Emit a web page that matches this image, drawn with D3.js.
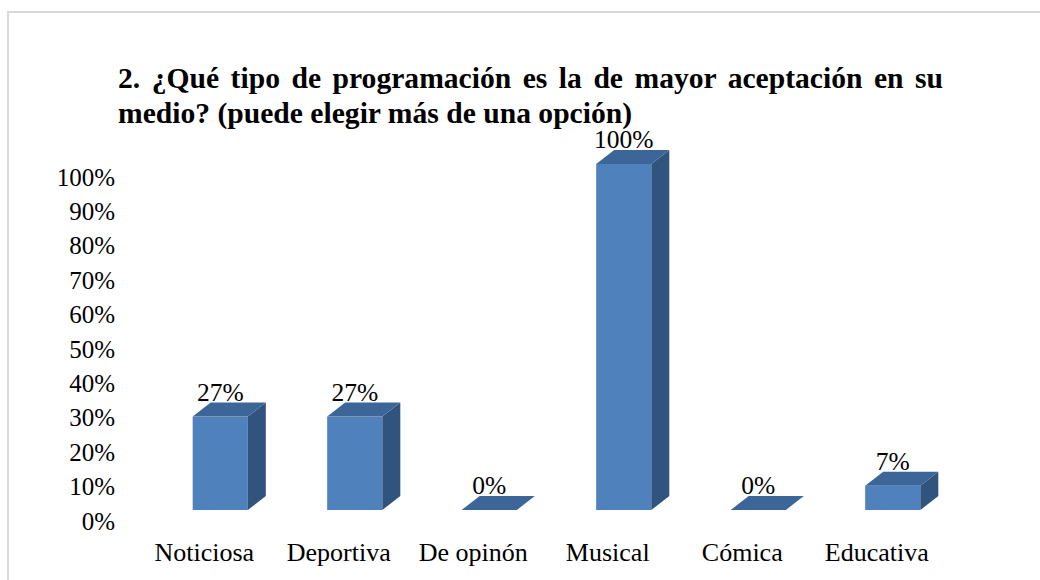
<!DOCTYPE html>
<html>
<head>
<meta charset="utf-8">
<script src="https://cdn.jsdelivr.net/npm/d3@7"></script>
<style>
  body { margin: 0; background: #fff; }
  text { font-family: "Liberation Serif", "Times New Roman", serif; fill: #000; }
</style>
</head>
<body>
<div class="chart"></div>
<script>
  // chart data
  const categories = ["Noticiosa", "Deportiva", "De opinón", "Musical", "Cómica", "Educativa"];
  const values = [27, 27, 0, 100, 0, 7];
  const valueLabels = ["27%", "27%", "0%", "100%", "0%", "7%"];
  const tickValues = [0, 10, 20, 30, 40, 50, 60, 70, 80, 90, 100];
  const titleLines = ["2. ¿Qué tipo de programación es la de mayor aceptación en su",
                      "medio? (puede elegir más de una opción)"];

  const width = 1040, height = 580;
  const depthX = 18, depthY = 14;

  const svg = d3.select(".chart")
    .append("svg")
    .attr("width", width)
    .attr("height", height);

  // frame border (top and left edges visible)
  svg.append("path")
    .attr("d", "M8,580 L8,12 L1040,12")
    .attr("fill", "none")
    .attr("stroke", "#d9d9d9")
    .attr("stroke-width", 2);

  // title, first line justified
  const titleLeft = 118, titleRight = 943;
  const t1 = svg.append("text")
    .attr("x", titleLeft).attr("y", 88)
    .style("font-size", "29.6px").style("font-weight", "bold")
    .text(titleLines[0]);
  const words = titleLines[0].split(" ");
  const natural = t1.node().getComputedTextLength();
  const extra = (titleRight - titleLeft - natural) / (words.length - 1);
  t1.style("word-spacing", extra + "px");

  svg.append("text")
    .attr("x", titleLeft).attr("y", 123)
    .style("font-size", "29.6px").style("font-weight", "bold")
    .text(titleLines[1]);

  // scales
  const x = d3.scaleBand()
    .domain(categories)
    .range([153, 960]);
  const barW = x.bandwidth() * 0.41;

  const yBar = d3.scaleLinear().domain([0, 100]).range([510, 164]);
  const yAxisScale = d3.scaleLinear().domain([0, 100]).range([521, 177]);

  // y axis labels only
  const yAxis = svg.append("g")
    .attr("transform", "translate(115,0)")
    .call(d3.axisLeft(yAxisScale)
      .tickValues(tickValues)
      .tickSize(0)
      .tickPadding(0)
      .tickFormat(d => d + "%"));
  yAxis.select(".domain").remove();
  yAxis.selectAll("text")
    .style("font-family", "Liberation Serif, Times New Roman, serif")
    .style("font-size", "25px")
    .attr("fill", "#000");

  // 3D bars
  const bars = svg.append("g")
    .selectAll("g")
    .data(categories.map((c, i) => ({ cat: c, value: values[i], label: valueLabels[i] })))
    .join("g");

  bars.each(function(d) {
    const g = d3.select(this);
    const x0 = x(d.cat) + (x.bandwidth() - barW) / 2;
    const x1 = x0 + barW;
    const yTop = yBar(d.value);
    const yBot = yBar(0);

    if (d.value > 0) {
      // front face
      g.append("rect")
        .attr("x", x0).attr("y", yTop)
        .attr("width", barW).attr("height", yBot - yTop)
        .attr("fill", "#4f81bd");
      // side face
      g.append("path")
        .attr("d", `M${x1},${yTop} L${x1 + depthX},${yTop - depthY} L${x1 + depthX},${yBot - depthY} L${x1},${yBot} Z`)
        .attr("fill", "#31547f");
    }
    // top face
    g.append("path")
      .attr("d", `M${x0},${yTop} L${x0 + depthX},${yTop - depthY} L${x1 + depthX},${yTop - depthY} L${x1},${yTop} Z`)
      .attr("fill", "#3c6698");

    // value label
    g.append("text")
      .attr("x", x0 + barW / 2)
      .attr("y", yTop - 16)
      .attr("text-anchor", "middle")
      .style("font-size", "25.5px")
      .text(d.label);
  });

  // category labels
  svg.append("g")
    .selectAll("text")
    .data(categories)
    .join("text")
    .attr("x", d => x(d) + x.bandwidth() / 2 - 16)
    .attr("y", 561)
    .attr("text-anchor", "middle")
    .style("font-size", "26px")
    .text(d => d);
</script>
</body>
</html>
